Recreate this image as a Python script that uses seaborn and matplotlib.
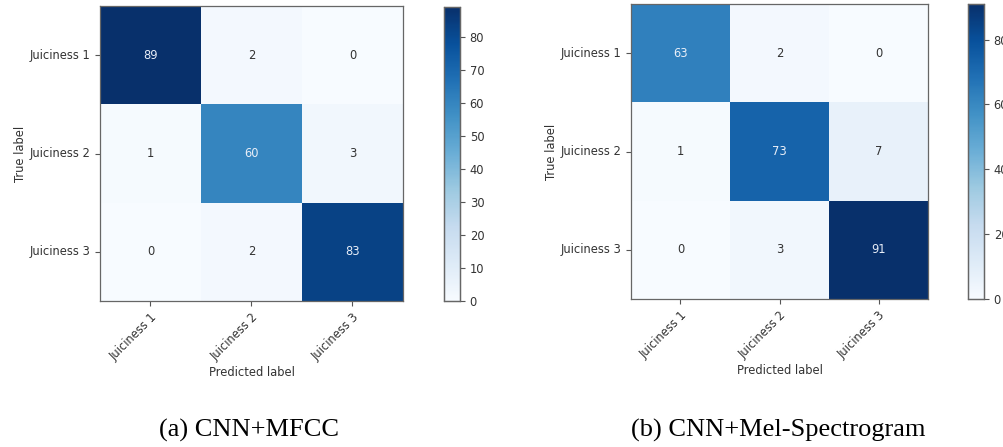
import numpy as np
import pandas as pd
import matplotlib
matplotlib.use("Agg")
import matplotlib.pyplot as plt
import seaborn as sns

labels = ["Juiciness 1", "Juiciness 2", "Juiciness 3"]
mfcc_values = [[89, 2, 0],
               [1, 60, 3],
               [0, 2, 83]]
mel_values = [[63, 2, 0],
              [1, 73, 7],
              [0, 3, 91]]
captions = ["(a) CNN+MFCC", "(b) CNN+Mel-Spectrogram"]

W, H = 1004, 447
fig = plt.figure(figsize=(W / 100, H / 100), dpi=100)
fig.patch.set_facecolor("white")

def fx(px): return px / W
def fy(px): return 1 - px / H

panels = [
    (mfcc_values, (100, 403, 6, 301), (444, 460, 7, 301), 10, 249),
    (mel_values, (631, 928, 4, 299), (968, 984, 4, 299), 20, 778),
]

fs = 8.3
tc = "#333333"
for (vals, (x0, x1, y0, y1), (cx0, cx1, cy0, cy1), tstep, capx), cap in zip(panels, captions):
    ax = fig.add_axes([fx(x0), fy(y1), fx(x1 - x0), (y1 - y0) / H])
    cax = fig.add_axes([fx(cx0), fy(cy1), fx(cx1 - cx0), (cy1 - cy0) / H])
    df = pd.DataFrame(vals, index=labels, columns=labels)
    vmax = df.values.max()
    sns.heatmap(df, ax=ax, cbar_ax=cax, cmap="Blues", vmin=0, vmax=vmax,
                annot=False, square=False)
    thresh = vmax / 2
    for i in range(3):
        for j in range(3):
            v = df.values[i, j]
            ax.text(j + 0.5, i + 0.5, str(v), ha="center", va="center",
                    fontsize=fs, color="#e8eef8" if v > thresh else tc)
    for s in ax.spines.values():
        s.set_visible(True)
        s.set_color("#666666")
        s.set_linewidth(0.9)
    ax.set_xticks(np.arange(3) + 0.5)
    ax.set_yticks(np.arange(3) + 0.5)
    ax.set_xticklabels(labels, rotation=45, ha="right", rotation_mode="anchor", fontsize=fs, color=tc)
    ax.set_yticklabels(labels, rotation=0, fontsize=fs, color=tc)
    ax.tick_params(axis="both", length=3.5, width=0.8, color="#555555")
    ax.set_xlabel("Predicted label", fontsize=fs, color=tc, labelpad=2)
    ax.set_ylabel("True label", fontsize=fs, color=tc, labelpad=2)
    cax.set_yticks(np.arange(0, vmax + 1, tstep))
    cax.tick_params(labelsize=fs, length=3.5, width=0.8, color="#555555", labelcolor=tc)
    cax.set_frame_on(True)
    for s in cax.spines.values():
        s.set_visible(True)
        s.set_color("#666666")
        s.set_linewidth(0.9)
    fig.text(fx(capx), fy(430), cap, ha="center", va="center",
             fontsize=19, family="Liberation Serif", color="black")

fig.savefig("out.png", dpi=100)
